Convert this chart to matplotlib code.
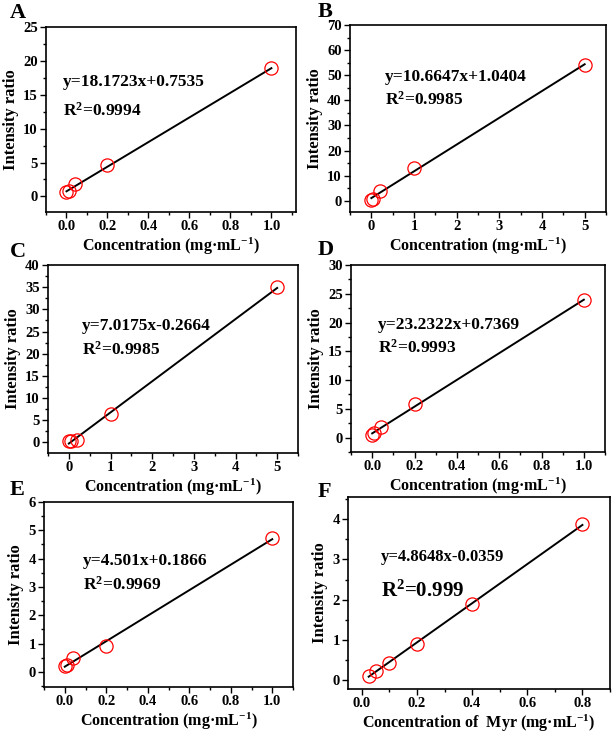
import numpy as np
import matplotlib
matplotlib.use('Agg')
import matplotlib.pyplot as plt
from matplotlib.ticker import AutoMinorLocator, MultipleLocator

plt.rcParams['font.family'] = 'Liberation Serif'
plt.rcParams['font.weight'] = 'bold'
plt.rcParams['mathtext.fontset'] = 'custom'
plt.rcParams['mathtext.rm'] = 'Liberation Serif:bold'
plt.rcParams['mathtext.bf'] = 'Liberation Serif:bold'
plt.rcParams['mathtext.it'] = 'Liberation Serif:bold'

# datos de cada panel
xa = [0, 0.01, 0.04, 0.2, 1.0]
ya = [0.6, 0.85, 1.85, 4.6, 18.9]
xb = [0, 0.04, 0.2, 1, 5]
yb = [0.3, 0.7, 3.9, 12.9, 54.2]
xc = [0, 0.04, 0.2, 1, 5]
yc = [0.3, 0.35, 0.6, 6.3, 35.0]
xd = [0, 0.01, 0.04, 0.2, 1.0]
yd = [0.5, 0.8, 1.8, 5.8, 23.9]
xe = [0, 0.01, 0.04, 0.2, 1.0]
ye = [0.2, 0.25, 0.5, 0.9, 4.72]
xf = [0.025, 0.05, 0.1, 0.2, 0.4, 0.8]
yf = [0.11, 0.23, 0.43, 0.9, 1.89, 3.87]

pendientes = [18.1723, 10.6647, 7.0175, 23.2322, 4.501, 4.8648]
intercepts = [0.7535, 1.0404, -0.2664, 0.7369, 0.1866, -0.0359]
ecuaciones = ['y=18.1723x+0.7535', 'y=10.6647x+1.0404', 'y=7.0175x-0.2664',
              'y=23.2322x+0.7369', 'y=4.501x+0.1866', 'y=4.8648x-0.0359']
r2 = ['R$^2$=0.9994', 'R$^2$=0.9985', 'R$^2$=0.9985',
      'R$^2$=0.9993', 'R$^2$=0.9969', 'R$^2$=0.999']
letras = ['A', 'B', 'C', 'D', 'E', 'F']
xlabel = 'Concentration (mg·mL$^{-1}$)'
xlabel_f = 'Concentration of  Myr (mg·mL$^{-1}$)'

W, H = 616, 737
fig = plt.figure(figsize=(W / 100, H / 100), dpi=100)

# cajas en pixeles: izquierda, derecha, arriba, abajo
cajas = [(46, 296, 27, 212), (350, 606, 25, 212), (48, 298, 265, 453),
         (351, 605, 265, 452), (44, 293, 502, 687), (348, 610, 497, 689)]
xlims = [(-0.1, 1.12), (-0.5, 5.5), (-0.5, 5.5), (-0.1, 1.1), (-0.1, 1.1), (-0.05, 0.9)]
ylims = [(-2.3, 25), (-4.5, 70), (-2.4, 40), (-2.5, 30), (-0.53, 6), (-0.22, 4.55)]
xmaj = [0.2, 1, 1, 0.2, 0.2, 0.2]
ymaj = [5, 10, 5, 5, 1, 1]
txt_pos = [(0.068, 0.70, 0.546), (0.138, 0.72, 0.60), (0.137, 0.675, 0.548),
           (0.106, 0.68, 0.56), (0.158, 0.68, 0.55), (0.127, 0.69, 0.51)]
letra_pos = [(10, 13), (318, 12), (10, 252), (318, 250), (10, 490), (318, 492)]

datos = [(xa, ya), (xb, yb), (xc, yc), (xd, yd), (xe, ye), (xf, yf)]

for i, (x, y) in enumerate(datos):
    l, r, t, b = cajas[i]
    ax = fig.add_axes([l / W, 1 - b / H, (r - l) / W, (b - t) / H])
    x = np.array(x)
    y = np.array(y)
    xl = np.array([x.min(), x.max()])
    ax.plot(xl, pendientes[i] * xl + intercepts[i], color='black', lw=1.4, zorder=2)
    ax.plot(x, y, 'o', mfc='none', mec='red', ms=9.5, mew=0.9, zorder=3)
    ax.set_xlim(xlims[i])
    ax.set_ylim(ylims[i])
    ax.xaxis.set_major_locator(MultipleLocator(xmaj[i]))
    ax.yaxis.set_major_locator(MultipleLocator(ymaj[i]))
    ax.xaxis.set_minor_locator(AutoMinorLocator(2))
    ax.yaxis.set_minor_locator(AutoMinorLocator(2))
    if xmaj[i] == 0.2:
        ax.xaxis.set_major_formatter(plt.FormatStrFormatter('%.1f'))
    ax.tick_params(which='both', direction='out', top=False, right=False,
                   labelsize=10.5, width=1.0, pad=2)
    ax.tick_params(which='major', length=4)
    ax.tick_params(which='minor', length=2.5)
    for s in ax.spines.values():
        s.set_linewidth(1.2)
    ax.set_xlabel(xlabel_f if i == 5 else xlabel, fontsize=11.5, fontweight='bold', labelpad=2)
    ax.set_ylabel('Intensity ratio', fontsize=12, fontweight='bold', labelpad=3)
    tx, ty1, ty2 = txt_pos[i]
    ax.text(tx, ty1, ecuaciones[i], transform=ax.transAxes, fontsize=12.5 if i < 5 else 12,
            fontweight='bold', va='center')
    ax.text(tx, ty2, r2[i], transform=ax.transAxes, fontsize=12.5 if i < 5 else 15,
            fontweight='bold', va='center')
    lx, ly = letra_pos[i]
    fig.text(lx / W, 1 - ly / H, letras[i], fontsize=16, fontweight='bold', va='center')

fig.savefig('out.png', dpi=100)
